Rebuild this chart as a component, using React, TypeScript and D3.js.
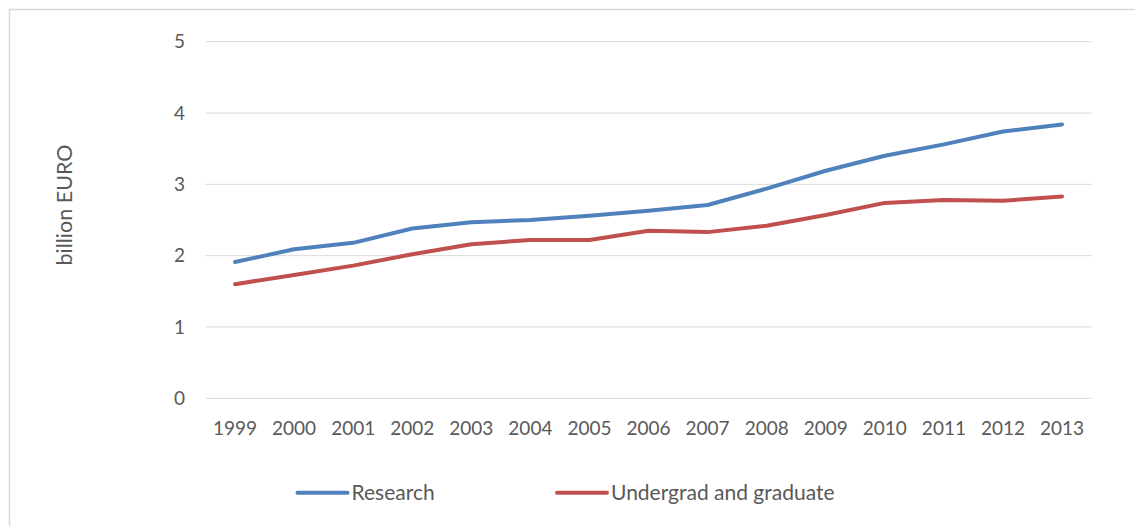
import React from "react";
import * as d3 from "d3";

const years = ["1999","2000","2001","2002","2003","2004","2005","2006","2007","2008","2009","2010","2011","2012","2013"];
const research = [1.91, 2.09, 2.18, 2.38, 2.47, 2.50, 2.56, 2.63, 2.71, 2.94, 3.19, 3.40, 3.56, 3.74, 3.84];
const undergrad = [1.60, 1.73, 1.86, 2.02, 2.16, 2.22, 2.22, 2.35, 2.33, 2.42, 2.57, 2.74, 2.78, 2.77, 2.83];
const yTicks = [0, 1, 2, 3, 4, 5];
const seriesNames = ["Research", "Undergrad and graduate"];

const W = 1135, H = 526;
const FONT = "Lato, 'Open Sans', sans-serif";
const TXT = "#595959";

export default function App() {
  const x = d3.scaleBand<string>().domain(years).range([205.5, 1091.6]);
  const y = d3.scaleLinear().domain([0, 5]).range([398.3, 41.7]);
  const line = d3.line<number>()
    .x((_, i) => (x(years[i]) as number) + x.bandwidth() / 2)
    .y((d) => y(d));
  const series = [
    { name: seriesNames[0], values: research, color: "#4F81BD", lx: 297.5 },
    { name: seriesNames[1], values: undergrad, color: "#C0504D", lx: 557 },
  ];
  return (
    <svg width={W} height={H} style={{ position: "absolute", left: 0, top: 0, background: "#fff" }} fontFamily={FONT}>
      <rect x={9.5} y={9.5} width={1140} height={530} fill="#fff" stroke="#D9D9D9" strokeWidth={1.5} />
      {yTicks.map((t) => (
        <g key={t}>
          <line x1={205.5} x2={1091.6} y1={y(t)} y2={y(t)} stroke="#D9D9D9" strokeWidth={1} />
          <text x={185} y={y(t)} dy="0.35em" textAnchor="end" fontSize={19} fill={TXT}>{t}</text>
        </g>
      ))}
      {years.map((yr) => (
        <text key={yr} x={(x(yr) as number) + x.bandwidth() / 2} y={435} textAnchor="middle" fontSize={19} fill={TXT}>{yr}</text>
      ))}
      <text transform={`translate(72,205) rotate(-90)`} textAnchor="middle" fontSize={21.5} fill={TXT}>billion EURO</text>
      {series.map((s) => (
        <path key={s.name} d={line(s.values) as string} fill="none" stroke={s.color} strokeWidth={4} strokeLinecap="round" strokeLinejoin="round" />
      ))}
      {series.map((s) => (
        <g key={s.name + "-leg"}>
          <line x1={s.lx} x2={s.lx + 50} y1={492.7} y2={492.7} stroke={s.color} strokeWidth={4} strokeLinecap="round" />
          <text x={s.lx + 54} y={492.7} dy="0.35em" fontSize={21} fill={TXT}>{s.name}</text>
        </g>
      ))}
    </svg>
  );
}
